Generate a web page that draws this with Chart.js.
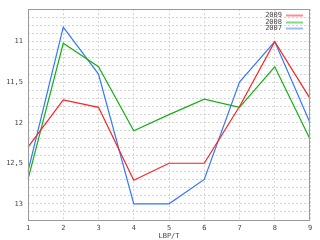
<!DOCTYPE html>
<html>
<head>
<meta charset="utf-8">
<script src="https://cdn.jsdelivr.net/npm/chart.js@4"></script>
<style>
html,body{margin:0;padding:0;background:#fff;}
#c{display:block;}
</style>
</head>
<body>
<canvas id="c" width="320" height="240"></canvas>
<script>
const categories = ['1','2','3','4','5','6','7','8','9'];
const seriesNames = ['2009','2008','2007'];
const values2009 = [12.3, 11.72, 11.81, 12.71, 12.5, 12.5, 11.8, 11.0, 11.7];
const values2008 = [12.7, 11.02, 11.31, 12.1, 11.9, 11.71, 11.81, 11.31, 12.2];
const values2007 = [12.6, 10.82, 11.4, 13.0, 13.0, 12.7, 11.5, 11.0, 12.0];
const yMin = 10.6, yMax = 13.2, yStep = 0.1;
const xTitle = 'LBP/T';
const colors = ['#ff2020', '#12b012', '#3377ff'];

const FONT = 'DejaVu Sans Mono';

const boxLegend = {
  id: 'boxLegend',
  afterDraw(chart) {
    const {ctx, chartArea: a} = chart;
    ctx.save();
    ctx.strokeStyle = '#9a9a9a';
    ctx.lineWidth = 1;
    ctx.strokeRect(Math.round(a.left) + 0.5, Math.round(a.top) + 0.5,
      Math.round(a.right - a.left) - 1, Math.round(a.bottom - a.top));
    ctx.font = '7px "' + FONT + '"';
    ctx.textAlign = 'right';
    ctx.textBaseline = 'middle';
    chart.data.datasets.forEach((ds, i) => {
      const y = a.top + 6 + i * 6.6;
      ctx.fillStyle = '#444';
      ctx.fillText(ds.label, a.right - 28, y);
      ctx.strokeStyle = ds.borderColor;
      ctx.globalAlpha = 0.5;
      ctx.lineWidth = 2;
      ctx.beginPath();
      ctx.moveTo(a.right - 24, Math.round(y) + 0.5);
      ctx.lineTo(a.right - 7, Math.round(y) + 0.5);
      ctx.stroke();
      ctx.globalAlpha = 1;
    });
    ctx.restore();
  }
};

const seriesValues = [values2009, values2008, values2007];

new Chart(document.getElementById('c'), {
  type: 'line',
  data: {
    labels: categories,
    datasets: seriesNames.map((n, i) => ({
      label: n,
      data: seriesValues[i],
      borderColor: colors[i],
      backgroundColor: colors[i],
      borderWidth: 1.2,
      pointRadius: 0,
      tension: 0,
      fill: false
    }))
  },
  options: {
    responsive: false,
    animation: false,
    devicePixelRatio: 1,
    layout: {padding: {top: 6, right: 10, left: 0, bottom: 0}},
    plugins: {legend: {display: false}, tooltip: {enabled: false}},
    scales: {
      x: {
        type: 'category',
        offset: false,
        grid: {color: '#d4d4d4', drawTicks: false},
        border: {display: false, dash: [2, 2]},
        ticks: {font: {family: FONT, size: 7}, color: '#444', padding: 4, maxRotation: 0, autoSkip: false},
        title: {display: true, text: xTitle, font: {family: FONT, size: 7}, color: '#444', padding: {top: 0, bottom: 0}},
        afterFit(s) { s.height = 20; }
      },
      y: {
        type: 'linear',
        reverse: true,
        min: yMin,
        max: yMax,
        grid: {color: '#d4d4d4', drawTicks: false},
        border: {display: false, dash: [2, 2]},
        ticks: {
          stepSize: yStep,
          autoSkip: false,
          font: {family: FONT, size: 7},
          color: '#444',
          padding: 5,
          callback(v) {
            const t = Math.round(v * 10);
            if (t % 5 !== 0) return '';
            return String(t / 10).replace('.', ',');
          }
        },
        afterFit(s) { s.width = 28; }
      }
    }
  },
  plugins: [boxLegend]
});
</script>
</body>
</html>
